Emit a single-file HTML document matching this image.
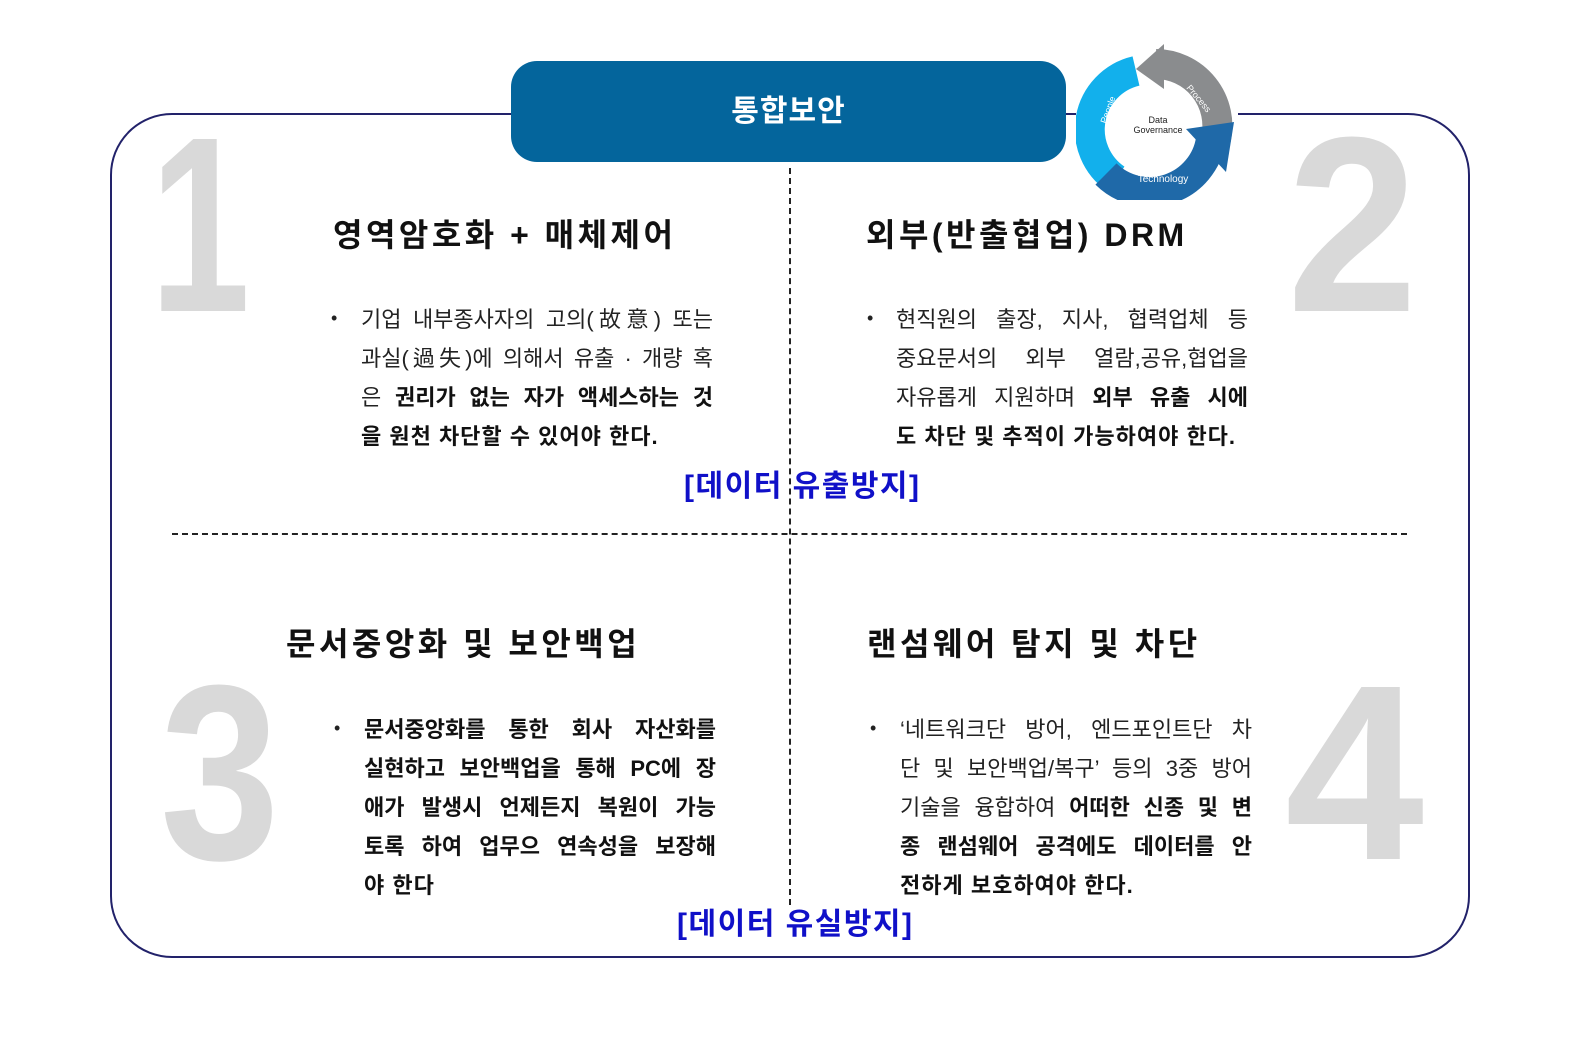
<!DOCTYPE html>
<html><head><meta charset="utf-8"><style>
body{margin:0;width:1571px;height:1052px;background:#fff;position:relative;overflow:hidden;font-family:"Liberation Sans","Noto Sans CJK KR",sans-serif;}
.a{position:absolute;}
.frame{left:110px;top:113px;width:1356px;height:841px;border:2px solid #22226a;border-radius:62px;}
.pill{left:511px;top:61px;width:555px;height:101px;background:#04659c;border-radius:26px;color:#fff;font-weight:bold;font-size:30px;text-align:center;line-height:101px;letter-spacing:1px;}
.num{color:#d9d9d9;font-weight:bold;font-size:250px;line-height:1;transform-origin:0 0;}
.t{font-weight:bold;font-size:32px;color:#111;white-space:nowrap;letter-spacing:3.5px;}
.blk{font-size:22px;color:#222;}
.blk div{height:39px;line-height:39px;text-align:justify;text-align-last:justify;white-space:nowrap;}
.blk div.l{text-align-last:left;letter-spacing:1px;}
.blk b{font-weight:bold;color:#111;}
.bul{font-size:18px;color:#222;}
.lab{color:#1010c8;font-weight:bold;font-size:30px;white-space:nowrap;letter-spacing:1.5px;}
</style></head><body>
<div class="a frame"></div>
<div class="a" style="left:789px;top:168px;height:737px;border-left:2px dashed #222;"></div>
<div class="a" style="left:172px;top:533px;width:1235px;border-top:2px dashed #222;"></div>
<div class="a pill">통합보안</div>
<svg class="a" style="left:1076px;top:44px" width="162" height="156" viewBox="0 0 162 156">
<rect width="162" height="156" fill="#fff"/>
<path d="M40 135 A60 60 0 0 1 60 27" fill="none" stroke="#12b0ec" stroke-width="30"/>
<polygon points="12,128 55,140 30,108" fill="#12b0ec"/>
<path d="M80 20 A62 62 0 0 1 140 95" fill="none" stroke="#8a8c8e" stroke-width="30"/>
<polygon points="88,0 88,45 60,25" fill="#8a8c8e"/>
<path d="M135 95 A62 62 0 0 1 30 130" fill="none" stroke="#1f69a8" stroke-width="30"/>
<polygon points="110,85 158,78 150,128" fill="#1f69a8"/>
<text x="82" y="79" font-size="9" text-anchor="middle" fill="#222" font-family="Liberation Sans,sans-serif">Data</text>
<text x="82" y="89" font-size="9" text-anchor="middle" fill="#222" font-family="Liberation Sans,sans-serif">Governance</text>
<text x="87" y="138" font-size="10" text-anchor="middle" fill="#fff" font-family="Liberation Sans,sans-serif">Technology</text>
<text x="30" y="80" font-size="9" fill="#fff" transform="rotate(-70 30 80)" font-family="Liberation Sans,sans-serif">People</text>
<text x="110" y="44" font-size="9" fill="#fff" transform="rotate(50 110 44)" font-family="Liberation Sans,sans-serif">Process</text>
</svg>
<div class="a num" style="left:150px;top:100px;transform:scaleX(0.72);">1</div>
<div class="a num" style="left:1287px;top:100px;transform:scaleX(0.94);">2</div>
<div class="a num" style="left:160px;top:648px;transform:scaleX(0.86);">3</div>
<div class="a num" style="left:1285px;top:648px;">4</div>

<div class="a t" style="left:333px;top:210px;">영역암호화 + 매체제어</div>
<div class="a t" style="left:866px;top:210px;">외부(반출협업) DRM</div>
<div class="a t" style="left:286px;top:619px;">문서중앙화 및 보안백업</div>
<div class="a t" style="left:867px;top:619px;">랜섬웨어 탐지 및 차단</div>

<div class="a bul" style="left:331px;top:308px;">•</div>
<div class="a blk" style="left:361px;top:300px;width:352px;">
<div>기업 내부종사자의 고의(故意) 또는</div>
<div>과실(過失)에 의해서 유출 · 개량 혹</div>
<div>은 <b>권리가 없는 자가 액세스하는 것</b></div>
<div class="l"><b>을 원천 차단할 수 있어야 한다.</b></div>
</div>

<div class="a bul" style="left:867px;top:308px;">•</div>
<div class="a blk" style="left:896px;top:300px;width:352px;">
<div>현직원의 출장, 지사, 협력업체 등</div>
<div>중요문서의 외부 열람,공유,협업을</div>
<div>자유롭게 지원하며 <b>외부 유출 시에</b></div>
<div class="l"><b>도 차단 및 추적이 가능하여야 한다.</b></div>
</div>

<div class="a bul" style="left:334px;top:718px;">•</div>
<div class="a blk" style="left:364px;top:710px;width:352px;font-weight:bold;color:#111;">
<div>문서중앙화를 통한 회사 자산화를</div>
<div>실현하고 보안백업을 통해 PC에 장</div>
<div>애가 발생시 언제든지 복원이 가능</div>
<div>토록 하여 업무으 연속성을 보장해</div>
<div class="l">야 한다</div>
</div>

<div class="a bul" style="left:870px;top:718px;">•</div>
<div class="a blk" style="left:900px;top:710px;width:352px;">
<div>‘네트워크단 방어, 엔드포인트단 차</div>
<div>단 및 보안백업/복구’ 등의 3중 방어</div>
<div>기술을 융합하여 <b>어떠한 신종 및 변</b></div>
<div><b>종 랜섬웨어 공격에도 데이터를 안</b></div>
<div class="l"><b>전하게 보호하여야 한다.</b></div>
</div>

<div class="a lab" style="left:684px;top:461px;">[데이터 유출방지]</div>
<div class="a lab" style="left:677px;top:899px;">[데이터 유실방지]</div>
</body></html>
